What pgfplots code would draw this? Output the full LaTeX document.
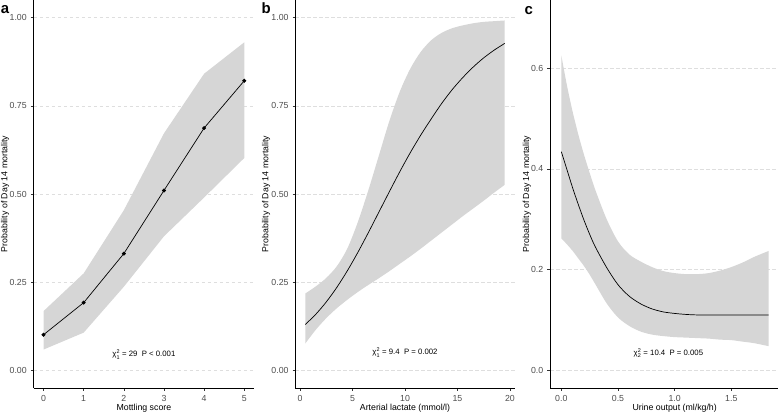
\documentclass[border=0pt]{standalone}
\usepackage{fontspec}
\setmainfont{Liberation Sans}
\usepackage{amsmath}
\usepackage{pgfplots}
\pgfplotsset{compat=1.18}
\usepgfplotslibrary{fillbetween}
\definecolor{ribbon}{RGB}{214,214,214}
\definecolor{gridc}{RGB}{222,222,222}
\definecolor{tickc}{RGB}{77,77,77}

\pgfplotstableread{
x fit lo hi
0 0.101 0.059 0.168
1 0.192 0.107 0.275
2 0.331 0.237 0.454
3 0.510 0.380 0.672
4 0.687 0.490 0.841
5 0.821 0.602 0.930
}\dataA

\pgfplotstableread{
x fit lo hi
0.5 0.130 0.076 0.218
1.5 0.159 0.115 0.238
2.5 0.194 0.148 0.262
3.5 0.235 0.176 0.295
4.5 0.282 0.200 0.345
5.5 0.334 0.222 0.420
6.5 0.390 0.242 0.510
7.5 0.448 0.261 0.608
8.5 0.506 0.281 0.706
9.5 0.563 0.302 0.790
10.5 0.617 0.323 0.855
11.5 0.667 0.345 0.903
12.5 0.713 0.368 0.936
13.5 0.757 0.391 0.957
14.5 0.796 0.414 0.970
15.5 0.830 0.437 0.978
16.5 0.860 0.459 0.984
17.5 0.886 0.481 0.988
18.5 0.908 0.504 0.990
19.5 0.927 0.526 0.992
}\dataB

\pgfplotstableread{
x fit lo hi
0.00 0.434 0.262 0.625
0.05 0.398 0.250 0.565
0.10 0.362 0.237 0.513
0.15 0.329 0.222 0.468
0.20 0.298 0.207 0.428
0.25 0.270 0.190 0.392
0.30 0.245 0.171 0.358
0.40 0.204 0.133 0.300
0.50 0.170 0.105 0.256
0.60 0.147 0.088 0.230
0.70 0.132 0.077 0.216
0.80 0.122 0.071 0.205
0.90 0.116 0.068 0.197
1.00 0.113 0.066 0.193
1.10 0.111 0.065 0.191
1.20 0.110 0.064 0.191
1.30 0.110 0.063 0.193
1.40 0.110 0.061 0.198
1.50 0.110 0.060 0.205
1.60 0.110 0.057 0.214
1.70 0.110 0.054 0.225
1.83 0.110 0.048 0.237
}\dataC

\tikzset{note/.style={font=\fontsize{7.8}{9}\selectfont, anchor=center}}
\pgfplotsset{
  panel/.style={
    scale only axis,
    height=388bp,
    axis lines*=left,
    axis line style={-, line width=0.7bp, black},
    every outer x axis line/.append style={-},
    every outer y axis line/.append style={-},
    tick align=outside,
    major tick length=2.75bp,
    tick style={line width=0.6bp, black!80},
    ymajorgrids,
    grid style={gridc, dash pattern=on 3.5bp off 2.5bp, line width=0.5bp},
    ticklabel style={font=\fontsize{8.8}{10}\selectfont, text=tickc},
    xticklabel style={anchor=north, inner sep=0pt, yshift=-4.5bp},
    yticklabel style={anchor=east, inner sep=0pt, xshift=-3.8bp},
    label style={font=\fontsize{8.8}{10}\selectfont},
    xlabel style={at={(axis description cs:0.5,0)}, anchor=base, yshift=-22bp},
    ylabel style={anchor=base},
  },
}

\begin{document}
\begin{tikzpicture}
% ---------------- a ----------------
\begin{axis}[panel, at={(33.5bp,24bp)}, anchor=south west, width=220.8bp,
  xmin=-0.25, xmax=5.25, ymin=-0.05, ymax=1.05,
  xtick={0,1,2,3,4,5}, xticklabels={0,1,2,3,4,5},
  ytick={0,0.25,0.5,0.75,1}, yticklabels={0.00,0.25,0.50,0.75,1.00},
  xlabel={Mottling score},
  ylabel={Probability of Day 14 mortality},
  ylabel style={at={(axis description cs:-0.1178,0.5)}}]
\addplot[name path=ahi, draw=none] table[x=x, y=hi] {\dataA};
\addplot[name path=alo, draw=none] table[x=x, y=lo] {\dataA};
\addplot[ribbon, draw=none] fill between[of=ahi and alo];
\addplot[black, line width=0.7bp, mark=*, mark size=1.6bp] table[x=x, y=fit] {\dataA};
\node[note] at (axis cs:2.5,0.045) {χ$^{\text{2}}_{\text{1}}$ = 29~~P < 0.001};
\end{axis}
% ---------------- b ----------------
\begin{axis}[panel, at={(295.3bp,24bp)}, anchor=south west, width=219.4bp,
  xmin=-0.45, xmax=20.45, ymin=-0.05, ymax=1.05,
  xtick={0,5,10,15,20}, xticklabels={0,5,10,15,20},
  ytick={0,0.25,0.5,0.75,1}, yticklabels={0.00,0.25,0.50,0.75,1.00},
  xlabel={Arterial lactate (mmol/l)},
  ylabel={Probability of Day 14 mortality},
  ylabel style={at={(axis description cs:-0.1231,0.5)}}]
\addplot[name path=bhi, draw=none, smooth] table[x=x, y=hi] {\dataB};
\addplot[name path=blo, draw=none, smooth] table[x=x, y=lo] {\dataB};
\addplot[ribbon, draw=none] fill between[of=bhi and blo];
\addplot[black, line width=0.7bp, smooth] table[x=x, y=fit] {\dataB};
\node[note] at (axis cs:10,0.05) {χ$^{\text{2}}_{\text{1}}$ = 9.4~~P = 0.002};
\end{axis}
% ---------------- c ----------------
\begin{axis}[panel, at={(550bp,24bp)}, anchor=south west, width=249.3bp,
  xmin=-0.1, xmax=2.1, ymin=-0.035, ymax=0.735,
  xtick={0,0.5,1,1.5}, xticklabels={0.0,0.5,1.0,1.5},
  ytick={0,0.2,0.4,0.6}, yticklabels={0.0,0.2,0.4,0.6},
  xlabel={Urine output (ml/kg/h)},
  ylabel={Probability of Day 14 mortality},
  ylabel style={at={(axis description cs:-0.0842,0.5)}}]
\addplot[name path=chi, draw=none, smooth] table[x=x, y=hi] {\dataC};
\addplot[name path=clo, draw=none, smooth] table[x=x, y=lo] {\dataC};
\addplot[ribbon, draw=none] fill between[of=chi and clo];
\addplot[black, line width=0.7bp, smooth] table[x=x, y=fit] {\dataC};
\node[note] at (axis cs:0.945,0.034) {χ$^{\text{2}}_{\text{2}}$ = 10.4~~P = 0.005};
\end{axis}
% panel letters
\node[anchor=base west, inner sep=0pt, font=\fontsize{15}{15}\selectfont\bfseries] at (0.8bp,398.7bp) {a};
\node[anchor=base west, inner sep=0pt, font=\fontsize{15}{15}\selectfont\bfseries] at (261.5bp,398.7bp) {b};
\node[anchor=base west, inner sep=0pt, font=\fontsize{15}{15}\selectfont\bfseries] at (524.5bp,397bp) {c};
\pgfresetboundingbox
\path[use as bounding box] (0,0) rectangle (778bp,412bp);
\end{tikzpicture}
\end{document}
